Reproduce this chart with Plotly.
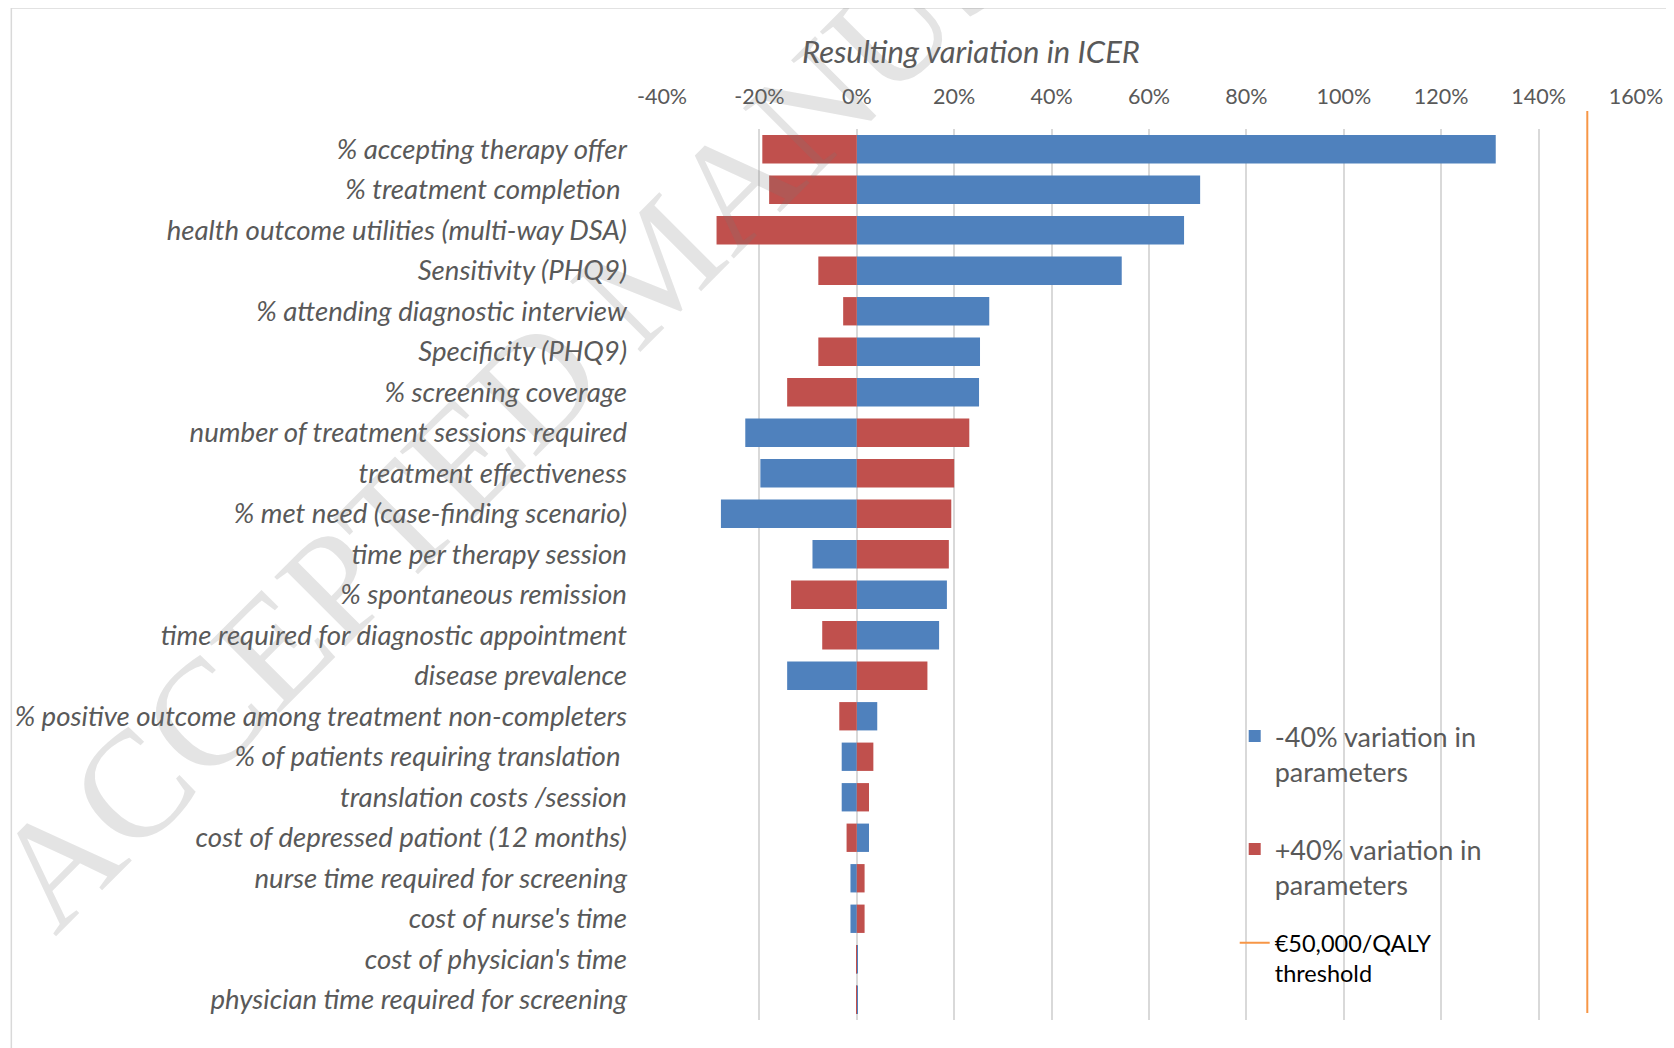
import plotly.graph_objects as go

# ---------------- data ----------------
categories = [
    "% accepting therapy offer",
    "% treatment completion\u00a0",
    "health outcome utilities (multi-way DSA)",
    "Sensitivity (PHQ9)",
    "% attending diagnostic interview",
    "Specificity (PHQ9)",
    "% screening coverage",
    "number of treatment sessions required",
    "treatment effectiveness",
    "% met need (case-finding scenario)",
    "time per therapy session",
    "% spontaneous remission",
    "time required for diagnostic appointment",
    "disease prevalence",
    "% positive outcome among treatment non-completers",
    "% of patients requiring translation\u00a0",
    "translation costs /session",
    "cost of depressed pationt (12 months)",
    "nurse time required for screening",
    "cost of nurse's time",
    "cost of physician's time",
    "physician time required for screening",
]
minus40_variation = [131.2, 70.5, 67.2, 54.4, 27.2, 25.3, 25.1, -22.9, -19.8, -27.9, -9.1,
                     18.5, 16.9, -14.3, 4.2, -3.1, -3.1, 2.5, -1.3, -1.3, 0.2, 0.2]
plus40_variation = [-19.4, -18.0, -28.8, -7.9, -2.8, -7.9, -14.3, 23.1, 20.0, 19.4, 18.9,
                    -13.5, -7.1, 14.5, -3.6, 3.4, 2.5, -2.1, 1.6, 1.6, -0.1, -0.1]
threshold_value = 150
tick_vals = [-40, -20, 0, 20, 40, 60, 80, 100, 120, 140, 160]
tick_text = ["-40%", "-20%", "0%", "20%", "40%", "60%", "80%", "100%", "120%", "140%", "160%"]

# ---------------- layout helpers ----------------
OFF = 8                      # page body margin offsets the figure
W, H = 1674 - OFF, 1048 - OFF
# plot area in screen pixels
SL, SR, ST, SB = 662, 1636.5, 129, 1020
ML, MT = SL - OFF, ST - OFF
MR, MB = W - (SR - OFF), H - (SB - OFF)
PW, PH = W - ML - MR, H - MT - MB


def px_x(x):
    return (x - OFF - ML) / PW


def px_y(y):
    return (H - MB - (y - OFF)) / PH


BLUE = "#4F81BD"
RED = "#C0504D"
ORANGE = "#F79646"
GRID = "#D9D9D9"
TXT = "#595959"
FONT = "Lato"

fig = go.Figure()
fig.add_trace(go.Bar(
    y=categories, x=minus40_variation, orientation="h",
    name="-40% variation in<br>parameters",
    marker=dict(color=BLUE, line=dict(width=0)),
    legend="legend", hoverinfo="skip",
))
fig.add_trace(go.Bar(
    y=categories, x=plus40_variation, orientation="h",
    name="+40% variation in<br>parameters",
    marker=dict(color=RED, line=dict(width=0)),
    legend="legend2", hoverinfo="skip",
))

# threshold line (shape with its own legend entry; extends a little above the plot area)
fig.add_shape(
    type="line", xref="x", yref="paper",
    x0=threshold_value, x1=threshold_value, y0=px_y(1013), y1=px_y(111),
    line=dict(color=ORANGE, width=2),
    showlegend=True, name="€50,000/QALY<br>threshold", legend="legend3",
)

legend_common = dict(
    xanchor="left", yanchor="top", bgcolor="rgba(0,0,0,0)", borderwidth=0,
    valign="top", itemclick=False, itemdoubleclick=False,
)

fig.update_layout(
    width=W, height=H,
    margin=dict(l=ML, r=MR, t=MT, b=MB, pad=0, autoexpand=False),
    paper_bgcolor="white", plot_bgcolor="white",
    barmode="overlay", bargap=0.30,
    font=dict(family=FONT, color=TXT),
    xaxis=dict(
        range=[-40, 160], side="top", tickmode="array",
        tickvals=tick_vals, ticktext=tick_text,
        showgrid=True, gridcolor=GRID, gridwidth=1.5,
        zeroline=True, zerolinecolor=GRID, zerolinewidth=1.5,
        showline=False, ticks="", automargin=False,
        tickfont=dict(family=FONT, size=21.5, color=TXT),
        ticklabelstandoff=20,
    ),
    yaxis=dict(
        autorange="reversed", showgrid=False, zeroline=False, showline=False,
        ticks="", automargin=False,
        tickfont=dict(family=FONT, size=27.6, color=TXT, style="italic"),
        ticklabelstandoff=34,
    ),
    legend=dict(x=px_x(1235), y=px_y(712), font=dict(family=FONT, size=27, color=TXT), **legend_common),
    legend2=dict(x=px_x(1235), y=px_y(825), font=dict(family=FONT, size=27, color=TXT), **legend_common),
    legend3=dict(x=px_x(1235), y=px_y(921), font=dict(family=FONT, size=23.5, color="#000000"), **legend_common),
    showlegend=True,
)

# axis title (Excel chart-style title above the tick labels)
fig.add_annotation(
    text="Resulting variation in ICER", xref="paper", yref="paper",
    x=px_x(971), y=px_y(51), xanchor="center", yanchor="middle", showarrow=False,
    font=dict(family=FONT, size=31, color=TXT, style="italic"),
)

# watermark
fig.add_annotation(
    text="ACCEPTED MANUSCRIPT", xref="paper", yref="paper",
    x=px_x(656), y=px_y(264), xanchor="center", yanchor="middle", showarrow=False,
    textangle=-45,
    font=dict(family="Liberation Serif", size=152, color="rgba(120,120,120,0.2)"),
)

# chart frame (top and left edges visible in the cropped original)
fig.add_shape(type="line", xref="paper", yref="paper",
              x0=px_x(11), x1=px_x(1700), y0=px_y(8), y1=px_y(8),
              line=dict(color=GRID, width=1.5))
fig.add_shape(type="line", xref="paper", yref="paper",
              x0=px_x(11), x1=px_x(11), y0=px_y(8), y1=px_y(1070),
              line=dict(color=GRID, width=1.5))

fig.write_html("out.html")
